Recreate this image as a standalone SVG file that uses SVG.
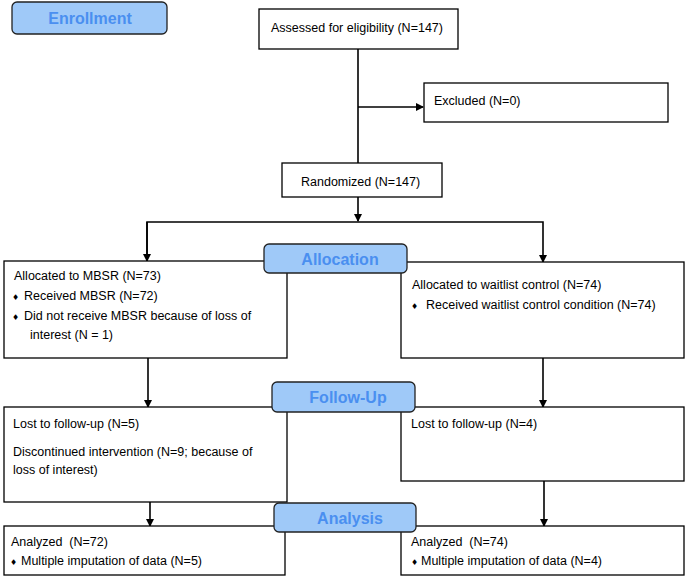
<svg xmlns="http://www.w3.org/2000/svg" width="685" height="576" viewBox="0 0 685 576">
<style>
.box{fill:#fff;stroke:#000;stroke-width:1.3}
.lbl{fill:#9fc9f8;stroke:#222;stroke-width:1.3}
.lt{font-family:"Liberation Sans",Arial,sans-serif;font-size:16px;font-weight:bold;fill:#4a8ff0;text-anchor:middle}
.t{font-family:"Liberation Sans",Arial,sans-serif;font-size:12.5px;fill:#000}
.b{font-family:"DejaVu Sans",sans-serif;font-size:8px;fill:#000}
.ln{fill:none;stroke:#000;stroke-width:1.6}
</style>
<defs>
<marker id="ah" markerWidth="8" markerHeight="8" refX="7" refY="4" orient="auto" markerUnits="userSpaceOnUse">
<path d="M0,0 L8,4 L0,8 Z" fill="#000"/>
</marker>
</defs>
<g id="connectors">
<path class="ln" d="M358,49 V163"/>
<path class="ln" d="M358,107 H423" marker-end="url(#ah)"/>
<path class="ln" d="M358,197 V221" marker-end="url(#ah)"/>
<path class="ln" d="M147,261 V222 H543 V262" marker-end="url(#ah)"/>
<path class="ln" d="M147,222 V261" marker-end="url(#ah)"/>
<path class="ln" d="M148,358 V407" marker-end="url(#ah)"/>
<path class="ln" d="M543,358 V407" marker-end="url(#ah)"/>
<path class="ln" d="M150,502 V526" marker-end="url(#ah)"/>
<path class="ln" d="M544,481 V526" marker-end="url(#ah)"/>
</g>
<g id="enrollment"><rect class="lbl" x="12" y="2" width="155" height="32" rx="5"/><text class="lt" x="90" y="24">Enrollment</text></g>
<g id="assessed"><rect class="box" x="259" y="9" width="199" height="40"/><text class="t" x="271" y="32">Assessed for eligibility (N=147)</text></g>
<g id="excluded"><rect class="box" x="424" y="83" width="244" height="39"/><text class="t" x="434" y="105">Excluded (N=0)</text></g>
<g id="randomized"><rect class="box" x="282" y="163" width="160" height="34"/><text class="t" x="301" y="186">Randomized (N=147)</text></g>
<g id="alloc-mbsr"><rect class="box" x="4" y="261" width="283" height="97"/>
<text class="t" x="14" y="280">Allocated to MBSR (N=73)</text>
<text class="b" x="12" y="300">♦</text><text class="t" x="24" y="300">Received MBSR (N=72)</text>
<text class="b" x="12" y="320">♦</text><text class="t" x="24" y="320">Did not receive MBSR because of loss of</text>
<text class="t" x="30" y="339">interest (N = 1)</text></g>
<g id="alloc-waitlist"><rect class="box" x="401" y="262" width="283" height="96"/>
<text class="t" x="412" y="289">Allocated to waitlist control (N=74)</text>
<text class="b" x="411" y="309">♦</text><text class="t" x="426" y="309">Received waitlist control condition (N=74)</text></g>
<g id="allocation"><rect class="lbl" x="264" y="244" width="143" height="29" rx="5"/><text class="lt" x="340" y="265">Allocation</text></g>
<g id="follow-mbsr"><rect class="box" x="4" y="407" width="283" height="95"/>
<text class="t" x="13" y="428">Lost to follow-up (N=5)</text>
<text class="t" x="13" y="456">Discontinued intervention (N=9; because of</text>
<text class="t" x="13" y="474">loss of interest)</text></g>
<g id="follow-waitlist"><rect class="box" x="401" y="407" width="283" height="74"/>
<text class="t" x="411" y="428">Lost to follow-up (N=4)</text></g>
<g id="followup"><rect class="lbl" x="272" y="382" width="143" height="30" rx="5"/><text class="lt" x="348" y="403">Follow-Up</text></g>
<g id="analysis-mbsr"><rect class="box" x="4" y="526" width="281" height="49"/>
<text class="t" x="11" y="546">Analyzed&#160; (N=72)</text>
<text class="b" x="10" y="565">♦</text><text class="t" x="21" y="565">Multiple imputation of data (N=5)</text></g>
<g id="analysis-waitlist"><rect class="box" x="401" y="526" width="283" height="49"/>
<text class="t" x="411" y="546">Analyzed&#160; (N=74)</text>
<text class="b" x="411" y="565">♦</text><text class="t" x="421" y="565">Multiple imputation of data (N=4)</text></g>
<g id="analysis"><rect class="lbl" x="274" y="503" width="142" height="29" rx="5"/><text class="lt" x="350" y="524">Analysis</text></g>
</svg>
